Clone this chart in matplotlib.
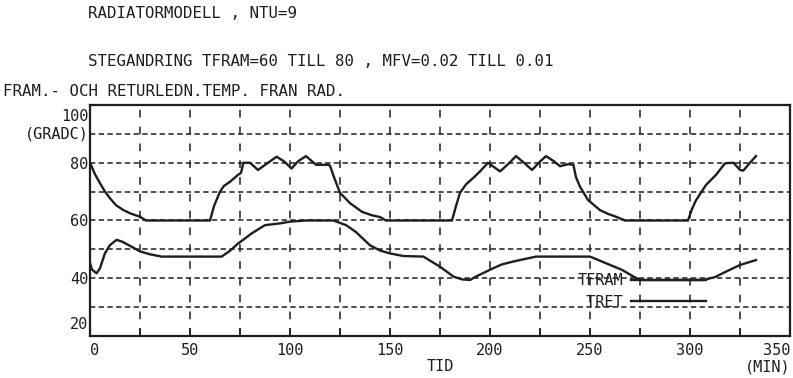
import matplotlib
matplotlib.use("Agg")
import matplotlib.pyplot as plt
import matplotlib.transforms as mtransforms
from matplotlib.ticker import MultipleLocator

# Supply temperature TFRAM (time in min, temperature in deg C)
tfram_t = [0, 2.5, 5, 7.5, 10, 13, 16.7, 20, 25, 28, 60, 62, 65, 67, 70, 74, 75.5, 76.7,
           80, 84, 88, 93.3, 97, 100.8, 104, 108, 111, 113, 119, 120, 122, 125, 130, 136,
           141, 145, 148, 181, 183, 185, 188, 191.7, 195, 199, 202, 205, 209, 213, 217,
           221, 225, 228, 232, 235, 239, 241.7, 243, 245, 249, 255, 259, 263, 267.5, 299,
           301, 303, 308, 313, 317.5, 321.7, 325, 326.7, 330, 333]
tfram_v = [80, 76, 72.9, 70, 67.7, 65.3, 63.6, 62.5, 61.3, 60, 60, 65, 70, 72, 73.4, 75.8, 76.5, 80,
           80, 77.5, 79.5, 82.1, 80.5, 78, 80.5, 82.3, 80.5, 79.3, 79.3, 79, 75, 69.6, 66, 63,
           61.8, 61.2, 60, 60, 65, 69.6, 72.5, 74.8, 77, 80, 78.5, 77, 79.5, 82.3, 80,
           77.5, 80.4, 82.3, 80.5, 78.8, 79.5, 79.3, 75, 71.7, 67.1, 63.6, 62.3, 61.3, 60, 60,
           64, 67, 72.3, 75.8, 79.8, 80, 77.5, 77.3, 80, 82.3]

# Return temperature TRET
tret_t = [0, 1, 3.3, 5, 7.5, 10, 13.3, 16, 19, 25, 30, 35.8, 65.8, 70, 74, 81, 87.5, 95,
          100, 108, 121.7, 128, 133, 140, 145, 150, 156.7, 166.7, 175, 181.7, 186, 190,
          193, 201.7, 206, 211.7, 223, 250, 258, 266, 271.7, 275, 306.7, 312.5, 318, 325, 333]
tret_v = [45.3, 43, 41.7, 43.5, 48.7, 51.5, 53.3, 52.7, 51.6, 49.3, 48.3, 47.5, 47.5, 49.5, 52, 55.6,
          58.4, 59, 59.6, 60, 60, 58.4, 56, 51.4, 49.6, 48.6, 47.7, 47.5, 44, 40.6, 39.6, 39.4,
          40.6, 43.5, 44.8, 45.8, 47.5, 47.5, 45.2, 42.9, 40.6, 39.4, 39.4, 40.4, 42.3, 44.6, 46.3]

x_ticks = [0, 50, 100, 150, 200, 250, 300, 350]
y_ticks = [20, 40, 60, 80, 100]

INK = "#1e1e1e"
FONT = "DejaVu Sans Mono"
FS = 11
FS_TITLE = 11.3

plt.rcParams["font.family"] = [FONT]
fig = plt.figure(figsize=(7.93, 3.78), dpi=100)
ax = fig.add_axes([90 / 793, 1 - 336 / 378, 700 / 793, 231 / 378])

ax.plot(tfram_t, tfram_v, color=INK, lw=1.7, label="TFRAM")
ax.plot(tret_t, tret_v, color=INK, lw=1.7, label=" TRET")

ax.set_xlim(0, 350)
ax.set_ylim(20, 100)
ax.set_xticks(x_ticks)
ax.set_xticklabels([str(v) for v in x_ticks])
ax.set_yticks(y_ticks)
ax.set_yticklabels([str(v) for v in y_ticks])
ax.xaxis.set_minor_locator(MultipleLocator(25))
ax.yaxis.set_minor_locator(MultipleLocator(10))

ax.xaxis.grid(True, which="both", color=INK, lw=1.1, linestyle=(0, (5, 6)))
ax.yaxis.grid(True, which="both", color=INK, lw=1.1, linestyle=(0, (3.5, 2.2)))
ax.set_axisbelow(True)

ax.tick_params(axis="both", which="both", direction="in", color=INK, width=1.2,
               labelsize=FS, labelcolor=INK)
ax.tick_params(axis="x", which="both", length=6, pad=5)
ax.tick_params(axis="y", which="both", length=0, pad=1)
for s in ax.spines.values():
    s.set_linewidth(1.6)
    s.set_color(INK)

# Edge tick labels kept inside the axis span
xl = ax.get_xticklabels()
xl[0].set_ha("left")
xl[-1].set_ha("right")
yl = ax.get_yticklabels()
yl[0].set_transform(yl[0].get_transform() + mtransforms.ScaledTranslation(0, 13 / 100, fig.dpi_scale_trans))
yl[-1].set_transform(yl[-1].get_transform() + mtransforms.ScaledTranslation(0, -10 / 100, fig.dpi_scale_trans))

ax.text(-0.002, 90, "(GRADC)", transform=ax.get_yaxis_transform(), ha="right", va="center",
        fontsize=FS, color=INK)
ax.set_xlabel("TID", fontsize=FS, color=INK, labelpad=1)
fig.text(790 / 793, 1 - 367 / 378, "(MIN)", ha="right", va="center", fontsize=FS, color=INK)

leg = ax.legend(loc="upper left", bbox_to_anchor=(0.696, 0.271), frameon=False,
                markerfirst=False, handlelength=4.9, handletextpad=0.52, labelspacing=0.41,
                fontsize=FS, borderpad=0, borderaxespad=0)
for t in leg.get_texts():
    t.set_color(INK)

fig.text(88 / 793, 1 - 13 / 378, "RADIATORMODELL , NTU=9", ha="left", va="center",
         fontsize=FS_TITLE, color=INK)
fig.text(88 / 793, 1 - 61 / 378, "STEGANDRING TFRAM=60 TILL 80 , MFV=0.02 TILL 0.01",
         ha="left", va="center", fontsize=FS_TITLE, color=INK)
fig.text(3 / 793, 1 - 91 / 378, "FRAM.- OCH RETURLEDN.TEMP. FRAN RAD.", ha="left",
         va="center", fontsize=FS_TITLE, color=INK)

fig.savefig("out.png", dpi=100)
